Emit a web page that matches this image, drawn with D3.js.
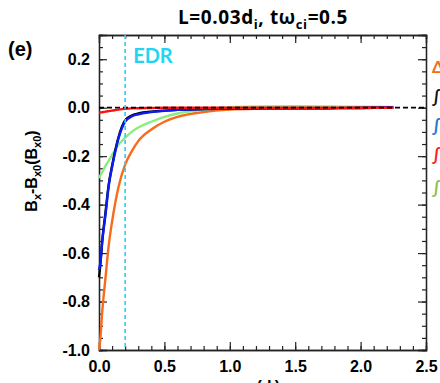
<!DOCTYPE html>
<html>
<head>
<meta charset="utf-8">
<script src="https://cdn.jsdelivr.net/npm/d3@7.9.0/dist/d3.min.js"></script>
<style>
  body { margin: 0; background: #fff; }
  svg { display: block; }
  .tick text { font-family: "Liberation Sans", Arial, sans-serif; font-weight: bold; font-size: 16px; fill: #000; }
</style>
</head>
<body>
<svg id="chart" width="440" height="383"></svg>
<script>
// values
const zGrid = [0, 0.01, 0.025, 0.05, 0.075, 0.1, 0.15, 0.2, 0.25, 0.3, 0.4, 0.5, 0.6, 0.8, 1.0, 1.25, 1.5, 1.75, 2.0, 2.25];
const orangeVals = [-1.0, -0.955, -0.84, -0.70, -0.565, -0.47, -0.325, -0.235, -0.18, -0.138, -0.09, -0.058, -0.038, -0.018, -0.008, -0.004, -0.002, -0.001, 0, 0];
const blackVals = [-0.70, -0.65, -0.55, -0.43, -0.315, -0.24, -0.12, -0.052, -0.032, -0.024, -0.016, -0.012, -0.009, -0.006, -0.004, -0.003, -0.003, -0.002, -0.001, 0.001];
const blueVals = [-0.67, -0.64, -0.55, -0.44, -0.32, -0.245, -0.125, -0.058, -0.036, -0.027, -0.018, -0.013, -0.009, -0.006, -0.004, -0.003, -0.003, -0.002, -0.001, 0.002];
const redVals = [-0.021, -0.02, -0.019, -0.016, -0.014, -0.012, -0.008, -0.005, -0.003, -0.002, -0.001, 0, 0, 0, 0, 0, 0, 0, 0, 0];
const greenVals = [-0.29, -0.28, -0.265, -0.24, -0.218, -0.195, -0.152, -0.124, -0.10, -0.082, -0.058, -0.038, -0.024, -0.008, 0.002, 0.005, 0.006, 0.005, 0.004, 0.003];

const xTicks = [0, 0.5, 1.0, 1.5, 2.0, 2.5];
const yTicks = [-1.0, -0.8, -0.6, -0.4, -0.2, 0.0, 0.2];
const edrZ = 0.2;

const series = [
  { name: 'orange', vals: orangeVals, color: '#f96a1b' },
  { name: 'green', vals: greenVals, color: '#8ced7f' },
  { name: 'black', vals: blackVals, color: '#000000' },
  { name: 'blue', vals: blueVals, color: '#0b1cf0' },
  { name: 'red', vals: redVals, color: '#ff1010' }
];

const legendItems = [
  { label: 'ΔB', color: '#f26b21' },
  { label: '∫[μ₀J]dz', color: '#111111' },
  { label: '∫[μ₀J]dz', color: '#1f77d0' },
  { label: '∫[μ₀J]dz', color: '#ff1a1a' },
  { label: '∫[μ₀J]dz', color: '#8cc152' }
];

const svg = d3.select('#chart');
const plotL = 99, plotR = 426, plotT = 35, plotB = 350;

const x = d3.scaleLinear().domain([0, 2.5]).range([plotL, plotR]);
const y = d3.scaleLinear().domain([-1.0, 0.3]).range([plotB, plotT]);

const xMinor = d3.range(0, 2.5001, 0.1);
const yMinor = d3.range(-1.0, 0.3001, 0.05);

// minor ticks
svg.append('g').attr('transform', `translate(0,${plotB})`)
  .call(d3.axisBottom(x).tickValues(xMinor).tickSize(-4).tickFormat(''));
svg.append('g').attr('transform', `translate(0,${plotT})`)
  .call(d3.axisTop(x).tickValues(xMinor).tickSize(-4).tickFormat(''));
svg.append('g').attr('transform', `translate(${plotL},0)`)
  .call(d3.axisLeft(y).tickValues(yMinor).tickSize(-4).tickFormat(''));
svg.append('g').attr('transform', `translate(${plotR},0)`)
  .call(d3.axisRight(y).tickValues(yMinor).tickSize(-4).tickFormat(''));

// major ticks
svg.append('g').attr('transform', `translate(0,${plotB})`)
  .call(d3.axisBottom(x).tickValues(xTicks).tickSize(-8).tickPadding(11).tickFormat(d3.format('.1f')));
svg.append('g').attr('transform', `translate(0,${plotT})`)
  .call(d3.axisTop(x).tickValues(xTicks).tickSize(-8).tickFormat(''));
svg.append('g').attr('transform', `translate(${plotL},0)`)
  .call(d3.axisLeft(y).tickValues(yTicks).tickSize(-8).tickPadding(9).tickFormat(d3.format('.1f')));
svg.append('g').attr('transform', `translate(${plotR},0)`)
  .call(d3.axisRight(y).tickValues(yTicks).tickSize(-8).tickFormat(''));

svg.selectAll('.domain').attr('stroke', '#222').attr('stroke-width', 1.3);
svg.selectAll('.tick line').attr('stroke', '#222').attr('stroke-width', 1.2);
svg.selectAll('.tick text').text(function () { return this.textContent.replace('−', '-'); });

// curves
const line = d3.line()
  .x((d, i) => x(zGrid[i]))
  .y(d => y(d))
  .curve(d3.curveMonotoneX);

series.forEach(s => {
  svg.append('path')
    .attr('d', line(s.vals))
    .attr('fill', 'none')
    .attr('stroke', s.color)
    .attr('stroke-width', 2.4);
});

// zero line
svg.append('line')
  .attr('x1', x(0)).attr('x2', x(2.5))
  .attr('y1', y(0)).attr('y2', y(0))
  .attr('stroke', '#000').attr('stroke-width', 1.8)
  .attr('stroke-dasharray', '5,3');

// EDR line
svg.append('line')
  .attr('x1', x(edrZ)).attr('x2', x(edrZ))
  .attr('y1', plotT).attr('y2', plotB)
  .attr('stroke', '#22d4f2').attr('stroke-width', 1.6)
  .attr('stroke-dasharray', '4,3');

svg.append('text')
  .attr('x', x(edrZ) + 8).attr('y', 63)
  .attr('fill', '#22d4f2')
  .style('font-family', 'Lato, sans-serif')
  .style('font-weight', 'bold')
  .style('font-size', '20px')
  .text('EDR');

// title
const title = svg.append('text')
  .attr('x', 263).attr('y', 24)
  .attr('text-anchor', 'middle')
  .style('font-family', '"Open Sans", sans-serif')
  .style('font-weight', 'bold')
  .style('font-size', '19px')
  .style('letter-spacing', '0.6px');
title.append('tspan').text('L=0.03d');
title.append('tspan').attr('dy', 5).style('font-size', '13px').text('i');
title.append('tspan').attr('dy', -5).text(', tω');
title.append('tspan').attr('dy', 5).style('font-size', '13px').text('ci');
title.append('tspan').attr('dy', -5).text('=0.5');

// panel label
svg.append('text')
  .attr('x', 8).attr('y', 56)
  .style('font-family', '"Liberation Sans", Arial, sans-serif')
  .style('font-weight', 'bold')
  .style('font-size', '20px')
  .text('(e)');

// y label
const yl = svg.append('text')
  .attr('transform', 'translate(37,171) rotate(-90)')
  .attr('text-anchor', 'middle')
  .style('font-family', '"Liberation Sans", Arial, sans-serif')
  .style('font-weight', 'bold')
  .style('font-size', '16px');
yl.append('tspan').text('B');
yl.append('tspan').attr('dy', 4).style('font-size', '11px').text('x');
yl.append('tspan').attr('dy', -4).text('-B');
yl.append('tspan').attr('dy', 4).style('font-size', '11px').text('x0');
yl.append('tspan').attr('dy', -4).text('(B');
yl.append('tspan').attr('dy', 4).style('font-size', '11px').text('x0');
yl.append('tspan').attr('dy', -4).text(')');

// x label (mostly below the window)
const xl = svg.append('text')
  .attr('x', 262).attr('y', 392)
  .attr('text-anchor', 'middle')
  .style('font-family', '"Liberation Sans", Arial, sans-serif')
  .style('font-weight', 'bold')
  .style('font-size', '16px');
xl.append('tspan').text('z (d');
xl.append('tspan').attr('dy', 4).style('font-size', '11px').text('i');
xl.append('tspan').attr('dy', -4).text(')');

// legend (cut by the right edge)
const legendY = [73, 103, 132, 161, 194];
legendItems.forEach((d, i) => {
  svg.append('text')
    .attr('x', 432).attr('y', legendY[i])
    .attr('fill', d.color)
    .style('font-family', 'Lato, sans-serif')
    .style('font-weight', 'bold')
    .style('font-size', '17px')
    .text(d.label);
});
</script>
</body>
</html>
